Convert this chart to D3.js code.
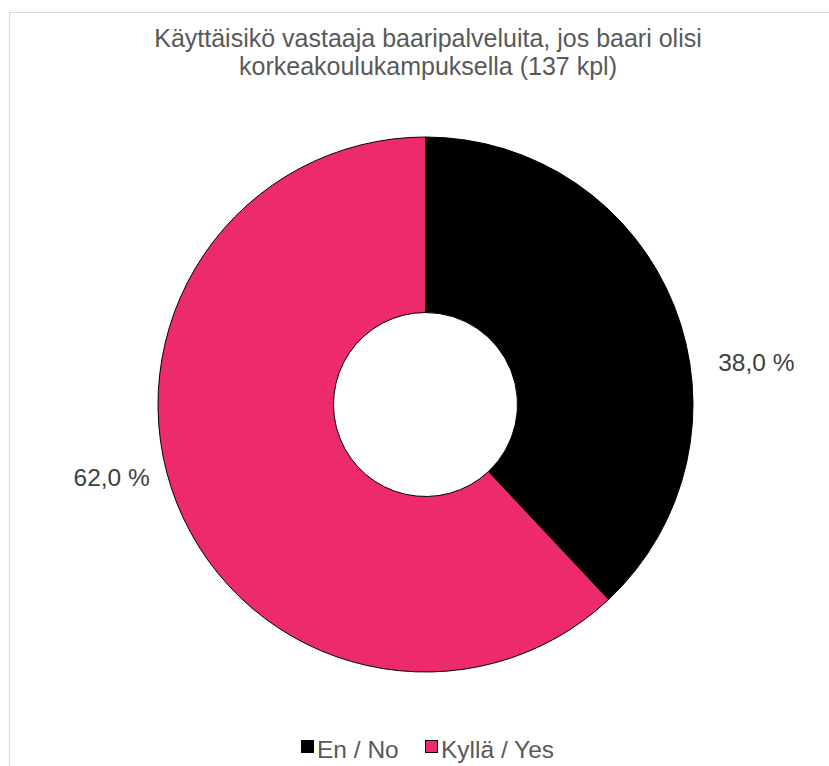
<!DOCTYPE html>
<html>
<head>
<meta charset="utf-8">
<script src="https://cdn.jsdelivr.net/npm/d3@7"></script>
<style>
  body { margin: 0; background: #fff; }
  svg { display: block; font-family: "Liberation Sans", Arial, sans-serif; }
</style>
</head>
<body>
<div id="chart"></div>
<script>
var categories = ["En / No", "Kyllä / Yes"];
var values = [38.0, 62.0];
var colors = ["#000000", "#EE2A6F"];
var titleLines = ["Käyttäisikö vastaaja baaripalveluita, jos baari olisi", "korkeakoulukampuksella (137 kpl)"];

var w = 829, h = 766;
var cx = 425.5, cy = 404.5;
var outerR = 267.5, innerR = 92;

var svg = d3.select("#chart").append("svg")
    .attr("width", w)
    .attr("height", h);

// chart frame
svg.append("rect")
    .attr("x", 9.5).attr("y", 12.5)
    .attr("width", 830).attr("height", 770)
    .attr("fill", "#fff")
    .attr("stroke", "#d9d9d9")
    .attr("stroke-width", 1);

svg.selectAll("text.title")
    .data(titleLines)
    .enter().append("text")
    .attr("class", "title")
    .attr("x", 428)
    .attr("y", function(d, i) { return 47 + i * 28; })
    .attr("text-anchor", "middle")
    .attr("font-size", "25px")
    .attr("fill", "#595959")
    .text(function(d) { return d; });

var pie = d3.pie().sort(null).value(function(d) { return d; });
var arc = d3.arc().innerRadius(innerR).outerRadius(outerR);
var arcs = pie(values);

var g = svg.append("g").attr("transform", "translate(" + cx + "," + cy + ")");

g.selectAll("path")
    .data(arcs)
    .enter().append("path")
    .attr("d", arc)
    .attr("fill", function(d, i) { return colors[i]; })
    .attr("stroke", "#000")
    .attr("stroke-width", 1);

// data labels: outer edge at mid angle, nudged like Excel's best fit
var edgeArc = d3.arc().innerRadius(outerR).outerRadius(outerR);
var labelNudge = [[44, 65], [-27, -17]];
g.selectAll("text.lbl")
    .data(arcs)
    .enter().append("text")
    .attr("class", "lbl")
    .attr("x", function(d, i) {
        var a = (d.startAngle + d.endAngle) / 2;
        return outerR * Math.sin(a) + labelNudge[i][0];
    })
    .attr("y", function(d, i) {
        var a = (d.startAngle + d.endAngle) / 2;
        return -outerR * Math.cos(a) + labelNudge[i][1];
    })
    .attr("text-anchor", function(d) {
        return (d.startAngle + d.endAngle) / 2 < Math.PI ? "start" : "end";
    })
    .attr("font-size", "24.5px")
    .attr("fill", "#404040")
    .text(function(d) { return d3.format(".1f")(d.data).replace(".", ",") + " %"; });

// legend
var legend = svg.append("g").attr("transform", "translate(0,758)");
var legX = [301, 425];
var items = legend.selectAll("g")
    .data(categories)
    .enter().append("g")
    .attr("transform", function(d, i) { return "translate(" + legX[i] + ",0)"; });

items.append("rect")
    .attr("x", 0.5).attr("y", -17.5)
    .attr("width", 12).attr("height", 12)
    .attr("fill", function(d, i) { return colors[i]; })
    .attr("stroke", "#000")
    .attr("stroke-width", 1);

items.append("text")
    .attr("x", 16)
    .attr("y", 0)
    .attr("font-size", "24.5px")
    .attr("fill", "#595959")
    .text(function(d) { return d; });
</script>
</body>
</html>
